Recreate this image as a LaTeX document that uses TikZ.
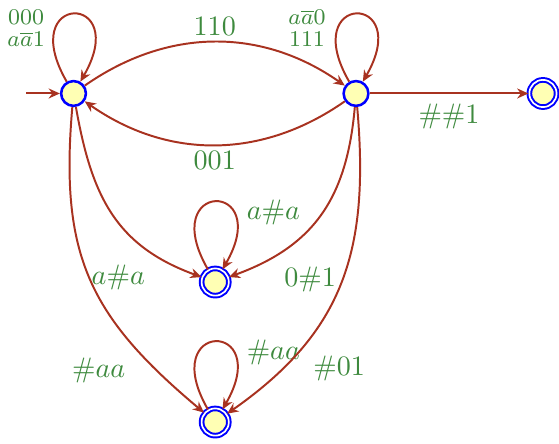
\documentclass[tikz,border=0pt]{standalone}
\usepackage{amsmath,amssymb}
\usepackage{xcolor}
\usepackage{tikz}
\usetikzlibrary{arrows.meta, positioning}
\definecolor{edgered}{RGB}{168,50,32}
\definecolor{lblgreen}{RGB}{62,138,62}
\definecolor{nodefill}{RGB}{255,255,180}
\tikzset{
  state/.style  = {circle, draw=blue, fill=nodefill, line width=0.9pt,
                   minimum size=0.31cm, inner sep=0pt},
  accept/.style = {circle, draw=blue, fill=nodefill, line width=0.7pt,
                   double, double distance=0.6pt, minimum size=0.34cm, inner sep=0pt},
  arrow/.style  = {draw=edgered, line width=0.7pt, -{Stealth[length=1.4mm, width=1.25mm]}},
  loopy/.style  = {out=120, in=60, min distance=1.3cm},
  lbl/.style    = {text=lblgreen, font=\normalsize},
  lblS/.style   = {text=lblgreen, font=\fontsize{8}{7.8}\selectfont, align=center, inner sep=1pt},
}
\begin{document}
\begin{tikzpicture}

    %% frame
    \useasboundingbox (0,0) rectangle (6.9875,5.5375);

    %% states
    \node[state]  (q0) at (0.919, 4.369) {};
    \node[state]  (q1) at (4.450, 4.369) {};
    \node[accept] (q2) at (6.787, 4.369) {};
    \node[accept] (q3) at (2.690, 2.012) {};
    \node[accept] (q4) at (2.690, 0.262) {};
    \coordinate[left=0.42cm of q0] (init);

    %% initial
    \draw[arrow] (init) -- (q0);

    %% loops
    \draw[arrow] (q0) to[loopy]
         node[lblS, pos=0.27, left=0.8mm] {$000$\\$a\overline{a}1$} (q0);
    \draw[arrow] (q1) to[loopy]
         node[lblS, pos=0.27, left=1mm] {$a\overline{a}0$\\$111$} (q1);
    \draw[arrow] (q3) to[loopy]
         node[lbl, pos=0.7, right=0.5mm] {$a\#a$} (q3);
    \draw[arrow] (q4) to[loopy]
         node[lbl, pos=0.7, right=0.5mm] {$\#aa$} (q4);

    %% transitions
    \draw[arrow] (q0) to[bend left=35]  node[lbl, above=-0.5mm] {$110$} (q1);
    \draw[arrow] (q1) to[bend left=35]  node[lbl, below=-0.5mm] {$001$} (q0);
    \draw[arrow] (q1) -- node[lbl, below] {$\#\#1$} (q2);
    \draw[arrow] (q0) to[out=-80, in=160, looseness=1.1]
         node[lbl, pos=0.79, below left] {$a\#a$} (q3);
    \draw[arrow] (q0) to[out=-95, in=140, looseness=1.15]
         node[lbl, pos=0.76, below left] {$\#aa$} (q4);
    \draw[arrow] (q1) to[out=-95, in=20, looseness=1.1]
         node[lbl, pos=0.8, below right] {$0\#1$} (q3);
    \draw[arrow] (q1) to[out=-85, in=35, looseness=1.1]
         node[lbl, pos=0.73, below right] {$\#01$} (q4);

  \end{tikzpicture}
\end{document}
